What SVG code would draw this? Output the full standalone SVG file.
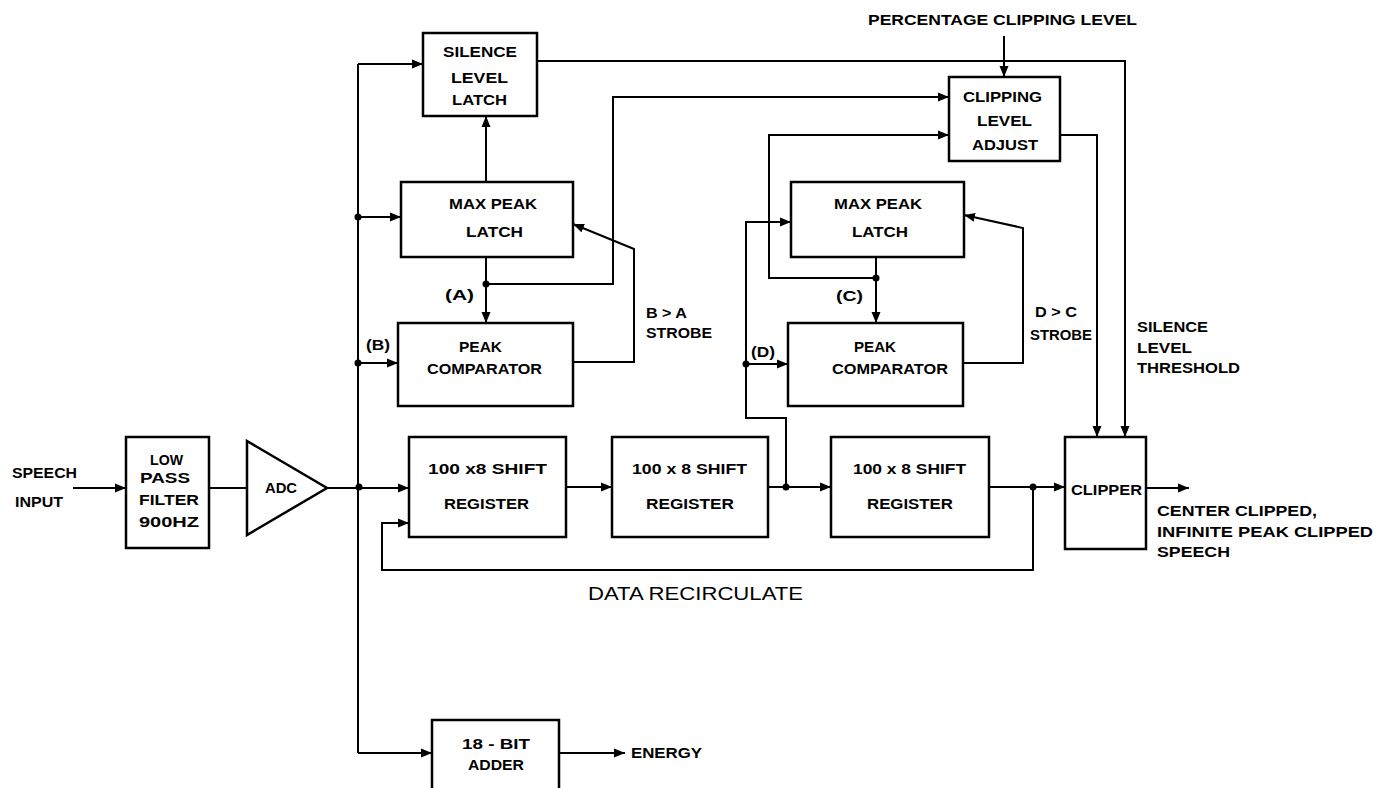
<svg xmlns="http://www.w3.org/2000/svg" width="1394" height="788" viewBox="0 0 1394 788">
<defs>
<marker id="arr" markerUnits="userSpaceOnUse" markerWidth="12" markerHeight="10" refX="11" refY="5" orient="auto">
<path d="M0,0.5 L11,5 L0,9.5 Z" fill="#000"/>
</marker>
<style>
.box{fill:#fff;stroke:#000;stroke-width:2.5}
.ln{fill:none;stroke:#000;stroke-width:2;stroke-linejoin:miter}
.ar{marker-end:url(#arr)}
.dot{fill:#000}
text{font-family:"Liberation Sans",Arial,sans-serif;font-weight:bold;font-size:14px;fill:#000}
.lt{font-weight:normal;font-size:18px}
</style>
</defs>
<rect width="1394" height="788" fill="#fff"/>

<g id="connectors">
<path class="ln ar" d="M73,488 H126"/>
<path class="ln" d="M209,488 H247"/>
<path class="ln ar" d="M327,488 H409"/>
<path class="ln" d="M358,64 V753"/>
<path class="ln ar" d="M358,64 H423"/>
<path class="ln ar" d="M358,217 H401"/>
<path class="ln ar" d="M358,363 H398"/>
<path class="ln ar" d="M358,753 H432"/>
<path class="ln ar" d="M486,182 V116"/>
<path class="ln ar" d="M486,257 V323"/>
<path class="ln ar" d="M486,284 H613 V97 H949"/>
<path class="ln ar" d="M573,362 H634 V249 L573,224"/>
<path class="ln ar" d="M537,61 H1125 V437"/>
<path class="ln ar" d="M1060,135 H1097 V437"/>
<path class="ln ar" d="M1004,36 V77"/>
<path class="ln ar" d="M876,257 V323"/>
<path class="ln ar" d="M876,278 H769 V135 H949"/>
<path class="ln ar" d="M786,487 V418 H746 V222 H791"/>
<path class="ln ar" d="M746,364 H788"/>
<path class="ln ar" d="M963,363 H1023 V228 L964,215"/>
<path class="ln ar" d="M566,487 H612"/>
<path class="ln ar" d="M768,487 H831"/>
<path class="ln ar" d="M989,487 H1065"/>
<path class="ln ar" d="M1033,487 V570 H382 V523 H409"/>
<path class="ln ar" d="M1146,488 H1189"/>
<path class="ln ar" d="M559,753 H625"/>
<circle class="dot" cx="358" cy="217" r="3.5"/>
<circle class="dot" cx="358" cy="363" r="3.5"/>
<circle class="dot" cx="359" cy="487" r="3.5"/>
<circle class="dot" cx="486" cy="284" r="3.5"/>
<circle class="dot" cx="876" cy="278" r="3.5"/>
<circle class="dot" cx="746" cy="364" r="3.5"/>
<circle class="dot" cx="786" cy="487" r="3.5"/>
<circle class="dot" cx="1033" cy="487" r="3.5"/>
</g>

<g id="labels">
<text x="868" y="25" textLength="269" lengthAdjust="spacingAndGlyphs">PERCENTAGE CLIPPING LEVEL</text>
<text x="445" y="300" textLength="29" lengthAdjust="spacingAndGlyphs">(A)</text>
<text x="366" y="350" textLength="24" lengthAdjust="spacingAndGlyphs">(B)</text>
<text x="836" y="301" textLength="27" lengthAdjust="spacingAndGlyphs">(C)</text>
<text x="751" y="357" textLength="24" lengthAdjust="spacingAndGlyphs">(D)</text>
<text x="646" y="318" textLength="41" lengthAdjust="spacingAndGlyphs">B &gt; A</text>
<text x="646" y="338" textLength="66" lengthAdjust="spacingAndGlyphs">STROBE</text>
<text x="1035" y="317" textLength="42" lengthAdjust="spacingAndGlyphs">D &gt; C</text>
<text x="1030" y="340" textLength="62" lengthAdjust="spacingAndGlyphs">STROBE</text>
<text x="1137" y="332" textLength="71" lengthAdjust="spacingAndGlyphs">SILENCE</text>
<text x="1137" y="353" textLength="55" lengthAdjust="spacingAndGlyphs">LEVEL</text>
<text x="1137" y="373" textLength="103" lengthAdjust="spacingAndGlyphs">THRESHOLD</text>
<text x="1157" y="516" textLength="160" lengthAdjust="spacingAndGlyphs">CENTER CLIPPED,</text>
<text x="1157" y="537" textLength="216" lengthAdjust="spacingAndGlyphs">INFINITE PEAK CLIPPED</text>
<text x="1157" y="557" textLength="73" lengthAdjust="spacingAndGlyphs">SPEECH</text>
<text class="lt" x="588" y="600" textLength="215" lengthAdjust="spacingAndGlyphs">DATA RECIRCULATE</text>
<text x="12" y="478" textLength="65" lengthAdjust="spacingAndGlyphs">SPEECH</text>
<text x="15" y="507" textLength="48" lengthAdjust="spacingAndGlyphs">INPUT</text>
<text x="631" y="758" textLength="71" lengthAdjust="spacingAndGlyphs">ENERGY</text>
</g>

<g id="lpf">
<rect class="box" x="126" y="437" width="83" height="111"/>
<text x="150" y="465" textLength="33" lengthAdjust="spacingAndGlyphs">LOW</text>
<text x="140" y="483" textLength="50" lengthAdjust="spacingAndGlyphs">PASS</text>
<text x="139" y="505" textLength="60" lengthAdjust="spacingAndGlyphs">FILTER</text>
<text x="139" y="527" textLength="60" lengthAdjust="spacingAndGlyphs">900HZ</text>
</g>

<g id="adc">
<path class="box" d="M247,441 L327,488 L247,535 Z"/>
<text x="265" y="493" textLength="32" lengthAdjust="spacingAndGlyphs">ADC</text>
</g>

<g id="silence-latch">
<rect class="box" x="423" y="33" width="114" height="83"/>
<text x="443" y="57" textLength="74" lengthAdjust="spacingAndGlyphs">SILENCE</text>
<text x="451" y="83" textLength="57" lengthAdjust="spacingAndGlyphs">LEVEL</text>
<text x="452" y="105" textLength="55" lengthAdjust="spacingAndGlyphs">LATCH</text>
</g>

<g id="max-peak-latch-1">
<rect class="box" x="401" y="182" width="172" height="75"/>
<text x="449" y="209" textLength="88" lengthAdjust="spacingAndGlyphs">MAX PEAK</text>
<text x="466" y="237" textLength="57" lengthAdjust="spacingAndGlyphs">LATCH</text>
</g>

<g id="peak-comparator-1">
<rect class="box" x="398" y="323" width="175" height="83"/>
<text x="459" y="352" textLength="43" lengthAdjust="spacingAndGlyphs">PEAK</text>
<text x="427" y="374" textLength="115" lengthAdjust="spacingAndGlyphs">COMPARATOR</text>
</g>

<g id="clipping-level-adjust">
<rect class="box" x="949" y="77" width="111" height="84"/>
<text x="963" y="102" textLength="79" lengthAdjust="spacingAndGlyphs">CLIPPING</text>
<text x="977" y="126" textLength="55" lengthAdjust="spacingAndGlyphs">LEVEL</text>
<text x="972" y="150" textLength="66" lengthAdjust="spacingAndGlyphs">ADJUST</text>
</g>

<g id="max-peak-latch-2">
<rect class="box" x="791" y="182" width="173" height="75"/>
<text x="834" y="209" textLength="88" lengthAdjust="spacingAndGlyphs">MAX PEAK</text>
<text x="852" y="237" textLength="56" lengthAdjust="spacingAndGlyphs">LATCH</text>
</g>

<g id="peak-comparator-2">
<rect class="box" x="788" y="323" width="175" height="83"/>
<text x="854" y="352" textLength="42" lengthAdjust="spacingAndGlyphs">PEAK</text>
<text x="832" y="374" textLength="116" lengthAdjust="spacingAndGlyphs">COMPARATOR</text>
</g>

<g id="shift-register-1">
<rect class="box" x="409" y="437" width="157" height="100"/>
<text x="428" y="474" textLength="119" lengthAdjust="spacingAndGlyphs">100 x8 SHIFT</text>
<text x="444" y="509" textLength="85" lengthAdjust="spacingAndGlyphs">REGISTER</text>
</g>

<g id="shift-register-2">
<rect class="box" x="612" y="437" width="156" height="100"/>
<text x="632" y="474" textLength="115" lengthAdjust="spacingAndGlyphs">100 x 8 SHIFT</text>
<text x="646" y="509" textLength="88" lengthAdjust="spacingAndGlyphs">REGISTER</text>
</g>

<g id="shift-register-3">
<rect class="box" x="831" y="437" width="158" height="100"/>
<text x="853" y="474" textLength="113" lengthAdjust="spacingAndGlyphs">100 x 8 SHIFT</text>
<text x="867" y="509" textLength="86" lengthAdjust="spacingAndGlyphs">REGISTER</text>
</g>

<g id="clipper">
<rect class="box" x="1065" y="437" width="81" height="112"/>
<text x="1071" y="495" textLength="71" lengthAdjust="spacingAndGlyphs">CLIPPER</text>
</g>

<g id="adder">
<rect class="box" x="432" y="720" width="127" height="75"/>
<text x="462" y="749" textLength="68" lengthAdjust="spacingAndGlyphs">18 - BIT</text>
<text x="468" y="770" textLength="56" lengthAdjust="spacingAndGlyphs">ADDER</text>
</g>
</svg>
